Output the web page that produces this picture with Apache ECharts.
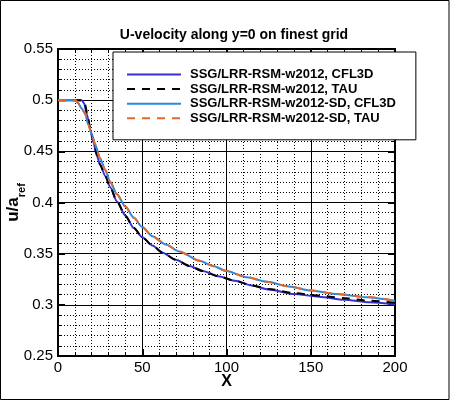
<!DOCTYPE html>
<html>
<head>
<meta charset="utf-8">
<script src="https://cdn.jsdelivr.net/npm/echarts@6/dist/echarts.min.js"></script>
<style>
html,body{margin:0;padding:0;background:#fff;}
#chart{width:450px;height:401px;}
</style>
</head>
<body>
<div id="chart"></div>
<script>
// ---- data ----
const titleText = 'U-velocity along y=0 on finest grid';
const seriesNames = [
  'SSG/LRR-RSM-w2012, CFL3D',
  'SSG/LRR-RSM-w2012, TAU',
  'SSG/LRR-RSM-w2012-SD, CFL3D',
  'SSG/LRR-RSM-w2012-SD, TAU'
];
const xTicks = [0, 50, 100, 150, 200];
const yTicks = [0.25, 0.3, 0.35, 0.4, 0.45, 0.5, 0.55];

const xBase = [0, 14, 15.5, 17, 19, 21, 23, 25, 28, 31, 35, 40, 45, 50, 56, 62, 70, 78, 86, 95, 105, 115, 125, 140, 155, 170, 185, 200];
const yBaseCFL3D = [0.5, 0.5, 0.497, 0.487, 0.472, 0.459, 0.446, 0.437, 0.426, 0.415, 0.401, 0.387, 0.375, 0.366, 0.358, 0.351, 0.344, 0.338, 0.333, 0.328, 0.3235, 0.319, 0.315, 0.3105, 0.308, 0.305, 0.3025, 0.3005];
const xBaseTAU = [0, 14.5, 16, 17.5, 19, 21, 23, 25, 28, 31, 35, 40, 45, 50, 56, 62, 70, 78, 86, 95, 105, 115, 125, 140, 155, 170, 185, 200];
const yBaseTAU = [0.5, 0.5, 0.496, 0.486, 0.474, 0.46, 0.447, 0.437, 0.426, 0.415, 0.401, 0.387, 0.375, 0.366, 0.358, 0.351, 0.344, 0.338, 0.333, 0.328, 0.3235, 0.319, 0.3155, 0.3115, 0.309, 0.3065, 0.304, 0.302];

const xSD = [0, 10.5, 12, 14, 16, 18, 20, 22, 25, 28, 31, 35, 40, 45, 50, 56, 64, 72, 84, 92, 100, 112, 124, 137, 150, 165, 183, 200];
const ySDCFL3D = [0.5, 0.5, 0.497, 0.492, 0.487, 0.476, 0.467, 0.457, 0.443, 0.432, 0.42, 0.408, 0.396, 0.385, 0.376, 0.367, 0.359, 0.352, 0.343, 0.338, 0.333, 0.327, 0.3225, 0.318, 0.314, 0.3105, 0.3075, 0.304];
const ySDTAU = [0.5, 0.5, 0.497, 0.492, 0.487, 0.476, 0.467, 0.457, 0.443, 0.432, 0.42, 0.408, 0.396, 0.385, 0.376, 0.367, 0.359, 0.352, 0.343, 0.338, 0.333, 0.327, 0.3225, 0.318, 0.3142, 0.3107, 0.3077, 0.3042];

const colors = ['#3b2fcf', '#000000', '#2c88dc', '#e2692b'];

// ---- chart ----
const FONT = 'Liberation Sans, Arial, Helvetica, sans-serif';
function zip(xs, ys) { return xs.map((x, i) => [x, ys[i]]); }

const chart = echarts.init(document.getElementById('chart'), null, {renderer: 'canvas'});

const axisCommon = {
  axisLine: {show: true, onZero: false, lineStyle: {color: '#000', width: 2}},
  axisTick: {show: true, inside: true, length: 7, lineStyle: {color: '#000', width: 2}},
  minorTick: {show: true, splitNumber: 5, length: 3, lineStyle: {color: '#000', width: 1}},
  splitLine: {show: true, lineStyle: {color: '#000', width: 1}},
  minorSplitLine: {show: true, lineStyle: {color: '#000', width: 1, type: [1, 2]}}
};
const mirrorCommon = {
  axisLine: {show: true, onZero: false, lineStyle: {color: '#000', width: 2}},
  axisTick: {show: true, inside: true, length: 7, lineStyle: {color: '#000', width: 2}},
  minorTick: {show: true, splitNumber: 5, length: 3, lineStyle: {color: '#000', width: 1}},
  splitLine: {show: false},
  minorSplitLine: {show: false},
  axisLabel: {show: false}
};

const dataSets = [
  zip(xBase, yBaseCFL3D),
  zip(xBaseTAU, yBaseTAU),
  zip(xSD, ySDCFL3D),
  zip(xSD, ySDTAU)
];
const dashed = [false, true, false, true];

const xMin = xTicks[0], xMax = xTicks[xTicks.length - 1], xInt = xTicks[1] - xTicks[0];
const yMin = yTicks[0], yMax = yTicks[yTicks.length - 1], yInt = 0.05;

const option = {
  animation: false,
  backgroundColor: '#fff',
  title: {
    text: titleText,
    left: 229,
    top: 23,
    textAlign: 'center',
    textStyle: {fontFamily: FONT, fontSize: 14, fontWeight: 'bold', color: '#000'}
  },
  grid: {left: 58, top: 49, width: 337, height: 307, containLabel: false, outerBoundsMode: 'none', show: true, borderColor: '#000', borderWidth: 2, backgroundColor: 'transparent'},
  legend: {
    orient: 'vertical',
    left: 113,
    top: 52,
    padding: [16, 20, 15, 13],
    itemGap: 1.6,
    itemWidth: 54,
    itemHeight: 14,
    backgroundColor: '#fff',
    borderColor: '#000',
    borderWidth: 1,
    itemStyle: {opacity: 0, borderWidth: 0},
    textStyle: {fontFamily: FONT, fontWeight: 'bold', fontSize: 13, color: '#000', padding: [0, 0, 0, 4]},
    data: seriesNames
  },
  xAxis: [
    Object.assign({}, axisCommon, {
      type: 'value', position: 'bottom',
      min: xMin, max: xMax, interval: xInt,
      name: 'X',
      nameLocation: 'middle',
      nameGap: 18,
      nameMoveOverlap: false,
      nameTextStyle: {fontFamily: FONT, fontSize: 16, fontWeight: 'bold', color: '#000'},
      axisLabel: {margin: 4, fontFamily: FONT, fontSize: 15, color: '#000'}
    }),
    Object.assign({}, mirrorCommon, {
      type: 'value', position: 'top',
      min: xMin, max: xMax, interval: xInt
    })
  ],
  yAxis: [
    Object.assign({}, axisCommon, {
      type: 'value', position: 'left',
      min: yMin, max: yMax, interval: yInt,
      name: '{a|u/a}{b|ref}',
      nameLocation: 'middle',
      nameGap: 31,
      nameRotate: 90,
      nameMoveOverlap: false,
      nameTextStyle: {
        rich: {
          a: {fontFamily: FONT, fontSize: 17, fontWeight: 'bold', color: '#000', lineHeight: 22, verticalAlign: 'top'},
          b: {fontFamily: FONT, fontSize: 11, fontWeight: 'bold', color: '#000', lineHeight: 10, verticalAlign: 'bottom'}
        }
      },
      axisLabel: {
        margin: 5, fontFamily: FONT, fontSize: 15, color: '#000',
        formatter: function (v) { return String(Math.round(v * 100) / 100); }
      }
    }),
    Object.assign({}, mirrorCommon, {
      type: 'value', position: 'right',
      min: yMin, max: yMax, interval: yInt
    })
  ],
  graphic: [{
    type: 'rect',
    shape: {x: 0.5, y: 0.5, width: 448.5, height: 399},
    style: {fill: 'none', stroke: '#000', lineWidth: 1},
    silent: true,
    z: 100
  }],
  series: seriesNames.map((name, i) => ({
    name: name,
    type: 'line',
    xAxisIndex: 0,
    yAxisIndex: 0,
    data: dataSets[i],
    smooth: 0.25,
    smoothMonotone: 'x',
    symbol: 'none',
    showSymbol: false,
    color: colors[i],
    lineStyle: {color: colors[i], width: 2, type: dashed[i] ? [8, 7] : 'solid'},
    z: 3 + i
  }))
};
chart.setOption(option);
</script>
</body>
</html>
